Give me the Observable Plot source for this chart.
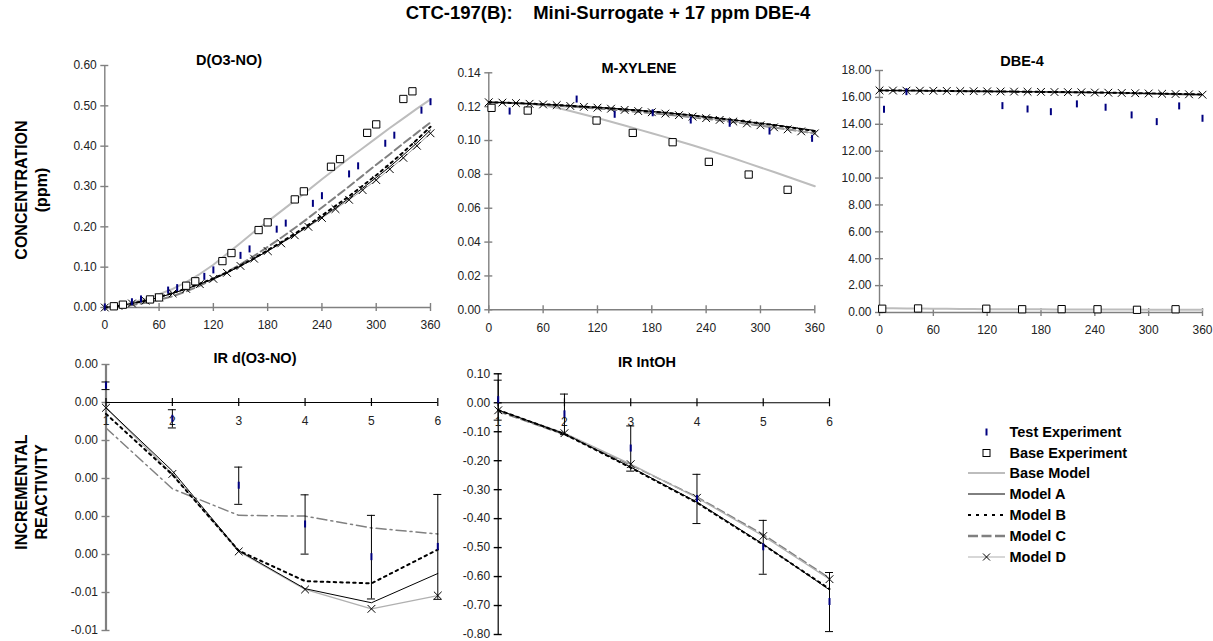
<!DOCTYPE html>
<html><head><meta charset="utf-8">
<script src="https://cdn.jsdelivr.net/npm/d3@7"></script>
<script src="https://cdn.jsdelivr.net/npm/@observablehq/plot@0.6"></script>
<style>
body{margin:0;background:#fff;font-family:"Liberation Sans",Arial,sans-serif;}
#chart{position:relative;width:1213px;height:641px;overflow:hidden;background:#fff;}
#chart svg.plot{position:absolute;left:0;top:0;}
.ttl{position:absolute;font-weight:bold;white-space:pre;transform:translate(-50%,-50%);color:#000;line-height:1;}
.ylab{position:absolute;font-weight:bold;font-size:16px;line-height:20px;text-align:center;white-space:pre;transform:translate(-50%,-50%) rotate(-90deg);color:#000;}
#legend{position:absolute;left:0;top:0;}
</style></head>
<body><div id="chart"></div>
<script>
// ---------- shared categories ----------
const modelTimes = [0,15,30,45,60,75,90,105,120,135,150,165,180,195,210,225,240,255,270,285,300,315,330,345,360];
const timeTicks = [0,60,120,180,240,300,360];
const irRuns = [1,2,3,4,5,6];

// ---------- D(O3-NO) ----------
const o3BaseModel = [0,0.003,0.012,0.022,0.033,0.046,0.063,0.083,0.106,0.133,0.160,0.188,0.213,0.239,0.265,0.291,0.318,0.344,0.370,0.395,0.420,0.445,0.469,0.493,0.516];
const o3ModelA = [0,0.004,0.010,0.017,0.025,0.035,0.046,0.058,0.071,0.086,0.103,0.121,0.140,0.160,0.180,0.202,0.224,0.247,0.271,0.296,0.322,0.349,0.378,0.408,0.440];
const o3ModelB = [0,0.004,0.010,0.017,0.026,0.036,0.047,0.059,0.072,0.087,0.104,0.122,0.142,0.162,0.183,0.205,0.228,0.252,0.276,0.302,0.328,0.356,0.385,0.416,0.448];
const o3ModelC = [0,0.002,0.006,0.012,0.019,0.028,0.040,0.054,0.070,0.088,0.107,0.128,0.150,0.173,0.197,0.222,0.248,0.274,0.300,0.327,0.354,0.380,0.407,0.433,0.459];
const o3ModelD = [0,0.004,0.010,0.017,0.025,0.035,0.046,0.058,0.071,0.086,0.103,0.121,0.140,0.159,0.179,0.200,0.222,0.244,0.267,0.291,0.316,0.343,0.371,0.401,0.432];
const o3BaseExpT = [10,20,50,60,90,100,130,140,170,180,210,220,250,260,290,300,330,340];
const o3BaseExpV = [0.003,0.007,0.020,0.025,0.054,0.065,0.115,0.135,0.192,0.211,0.268,0.288,0.349,0.368,0.433,0.454,0.517,0.536];
const o3TestExpT = [0,30,40,70,80,110,120,150,160,190,200,230,240,270,280,310,320,350,360];
const o3TestExpV = [0,0.013,0.020,0.042,0.048,0.076,0.092,0.128,0.144,0.193,0.208,0.257,0.276,0.330,0.350,0.406,0.426,0.488,0.509];
const o3Ticks = [0,0.1,0.2,0.3,0.4,0.5,0.6];
const o3TickLabels = ["0.00","0.10","0.20","0.30","0.40","0.50","0.60"];

// ---------- M-XYLENE ----------
const mxBaseModel = [0.1226,0.1225,0.1222,0.1217,0.1208,0.1193,0.1174,0.1154,0.1133,0.1111,0.1089,0.1066,0.1043,0.1020,0.0996,0.0972,0.0947,0.0921,0.0895,0.0868,0.0841,0.0814,0.0786,0.0758,0.0730];
const mxModelA = [0.1226,0.1224,0.1221,0.1218,0.1214,0.1210,0.1206,0.1201,0.1196,0.1191,0.1185,0.1179,0.1172,0.1165,0.1157,0.1149,0.1140,0.1131,0.1122,0.1112,0.1102,0.1092,0.1081,0.1070,0.1059];
const mxModelB = [0.1226,0.1224,0.1221,0.1218,0.1214,0.1210,0.1205,0.1200,0.1195,0.1190,0.1184,0.1178,0.1171,0.1164,0.1156,0.1148,0.1139,0.1130,0.1121,0.1111,0.1101,0.1091,0.1080,0.1068,0.1056];
const mxModelC = [0.1226,0.1223,0.1220,0.1216,0.1211,0.1206,0.1201,0.1195,0.1189,0.1183,0.1176,0.1169,0.1162,0.1154,0.1146,0.1137,0.1128,0.1119,0.1109,0.1099,0.1088,0.1077,0.1066,0.1054,0.1042];
const mxModelD = [0.1226,0.1224,0.1221,0.1217,0.1213,0.1209,0.1204,0.1199,0.1194,0.1188,0.1181,0.1174,0.1167,0.1159,0.1150,0.1141,0.1132,0.1122,0.1112,0.1101,0.1090,0.1078,0.1066,0.1054,0.1042];
const mxBaseExpT = [3,43,119,159,203,243,287,330];
const mxBaseExpV = [0.1193,0.1177,0.1118,0.1045,0.0990,0.0874,0.0799,0.0709];
const mxTestExpT = [23,97,139,181,223,266,310,357];
const mxTestExpV = [0.1171,0.1242,0.1152,0.1161,0.1118,0.1099,0.1053,0.1010];
const mxTicks = [0,0.02,0.04,0.06,0.08,0.10,0.12,0.14];
const mxTickLabels = ["0.00","0.02","0.04","0.06","0.08","0.10","0.12","0.14"];

// ---------- DBE-4 ----------
const dbBaseModel = [0.32,0.31,0.30,0.29,0.28,0.27,0.26,0.26,0.25,0.25,0.24,0.24,0.24,0.23,0.23,0.23,0.22,0.22,0.22,0.22,0.21,0.21,0.21,0.21,0.20];
const dbModelA = [16.52,16.51,16.50,16.50,16.49,16.48,16.47,16.46,16.45,16.44,16.43,16.42,16.41,16.40,16.39,16.38,16.36,16.35,16.33,16.31,16.29,16.27,16.25,16.23,16.21];
const dbModelB = [16.52,16.51,16.51,16.50,16.49,16.48,16.47,16.46,16.45,16.44,16.43,16.42,16.41,16.40,16.39,16.38,16.37,16.35,16.34,16.32,16.30,16.28,16.26,16.24,16.22];
const dbModelC = [16.52,16.51,16.50,16.49,16.48,16.47,16.46,16.45,16.44,16.43,16.42,16.41,16.40,16.39,16.38,16.37,16.35,16.34,16.32,16.30,16.28,16.26,16.24,16.22,16.20];
const dbModelD = [16.52,16.51,16.50,16.50,16.49,16.48,16.47,16.46,16.45,16.44,16.43,16.42,16.41,16.40,16.39,16.38,16.36,16.35,16.33,16.31,16.29,16.27,16.25,16.23,16.20];
const dbBaseExpT = [3,43,119,159,203,243,287,330];
const dbBaseExpV = [0.28,0.30,0.28,0.24,0.25,0.24,0.20,0.24];
const dbTestExpT = [5,30,137,165,191,220,252,281,309,334,360];
const dbTestExpV = [15.08,16.39,15.35,15.10,14.90,15.48,15.23,14.66,14.16,15.33,14.41];
const dbTicks = [0,2,4,6,8,10,12,14,16,18];
const dbTickLabels = ["0.00","2.00","4.00","6.00","8.00","10.00","12.00","14.00","16.00","18.00"];

// ---------- IR d(O3-NO) ----------
const irO3Test = [0.00044,-0.00043,-0.00219,-0.00321,-0.00407,-0.00380];
const irO3Err = [0.00010,0.00024,0.00049,0.00078,0.00110,0.00138];
const irO3ModelA = [-0.00014,-0.00180,-0.00390,-0.00490,-0.00527,-0.00450];
const irO3ModelB = [-0.00030,-0.00190,-0.00390,-0.00470,-0.00476,-0.00387];
const irO3ModelC = [-0.00067,-0.00227,-0.00297,-0.00299,-0.00330,-0.00346];
const irO3ModelD = [-0.00014,-0.00188,-0.00392,-0.00492,-0.00543,-0.00508];
const irO3Ticks = [0.001,0,-0.001,-0.002,-0.003,-0.004,-0.005,-0.006];
const irO3TickLabels = ["0.00","0.00","0.00","0.00","0.00","0.00","-0.01","-0.01"];

// ---------- IR IntOH ----------
const irOHTest = [0.009,-0.040,-0.158,-0.332,-0.499,-0.688];
const irOHErr = [0.069,0.070,0.078,0.085,0.093,0.102];
const irOHModelA = [-0.025,-0.107,-0.222,-0.343,-0.488,-0.646];
const irOHModelB = [-0.025,-0.108,-0.224,-0.345,-0.490,-0.643];
const irOHModelC = [-0.030,-0.110,-0.215,-0.325,-0.455,-0.605];
const irOHModelD = [-0.026,-0.105,-0.212,-0.328,-0.460,-0.609];
const irOHTicks = [0.1,0,-0.1,-0.2,-0.3,-0.4,-0.5,-0.6,-0.7,-0.8];
const irOHTickLabels = ["0.10","0.00","-0.10","-0.20","-0.30","-0.40","-0.50","-0.60","-0.70","-0.80"];

// ---------- styles ----------
const NAVY = "#000080", AXIS = "#808080", LABEL = "#222";
const W = 1213, H = 641;
const chart = document.getElementById("chart");
const styleBase = {background:"transparent", overflow:"visible", fontFamily:"'Liberation Sans', Arial, sans-serif"};

function zipRows(ts, series) {
  return ts.map((t, i) => { const r = {t}; for (const k in series) r[k] = series[k][i]; return r; });
}

function concPanel(o) {
  const rows = zipRows(modelTimes, {base:o.base, a:o.a, b:o.b, c:o.c, d:o.d});
  const baseExp = zipRows(o.beT, {v:o.beV});
  const testExp = zipRows(o.teT, {v:o.teV});
  const svg = Plot.plot({
    width: W, height: H,
    marginLeft: o.L, marginRight: W - o.R, marginTop: o.T, marginBottom: H - o.B,
    x: {domain: [0, 360], axis: null},
    y: {domain: o.ydom, axis: null},
    style: styleBase,
    marks: [
      Plot.ruleX([0], {stroke: AXIS, strokeWidth: 1.4}),
      Plot.ruleY([0], {stroke: AXIS, strokeWidth: 1.4}),
      Plot.ruleX(timeTicks, {x: d => d, y1: 0, y2: 0, insetTop: -4, insetBottom: -4, stroke: AXIS, strokeWidth: 1.4}),
      Plot.ruleY(o.ticks, {y: d => d, x1: 0, x2: 0, insetLeft: -4, insetRight: -4, stroke: AXIS, strokeWidth: 1.4}),
      Plot.text(o.ticks, {x: 0, y: d => d, text: (d, i) => o.labels[i], textAnchor: "end", dx: -8, fontSize: 12, fill: LABEL}),
      Plot.text(timeTicks, {x: d => d, y: o.ydom[0], text: d => String(d), dy: 18, fontSize: 12, fill: LABEL}),
      Plot.line(rows, {x: "t", y: "base", stroke: "#bdbdbd", strokeWidth: 2}),
      Plot.line(rows, {x: "t", y: "c", stroke: "#808080", strokeWidth: 2, strokeDasharray: "8,4"}),
      Plot.line(rows, {x: "t", y: "d", stroke: "#a6a6a6", strokeWidth: 1}),
      Plot.line(rows, {x: "t", y: "b", stroke: "#000", strokeWidth: 2, strokeDasharray: "2.5,4"}),
      Plot.line(rows, {x: "t", y: "a", stroke: "#000", strokeWidth: 1}),
      Plot.dot(rows, {x: "t", y: "d", symbol: "times", r: 3.6, stroke: "#000", strokeWidth: 1}),
      Plot.ruleX(testExp, {x: "t", y1: "v", y2: "v", insetTop: -3.5, insetBottom: -3.5, stroke: NAVY, strokeWidth: 2}),
      Plot.dot(baseExp, {x: "t", y: "v", symbol: "square", r: 4.1, stroke: "#000", fill: "#fff", strokeWidth: 1})
    ]
  });
  svg.classList.add("plot");
  chart.appendChild(svg);
}

function irPanel(o) {
  const rows = irRuns.map((r, i) => ({r, test: o.test[i], err: o.err[i], lo: o.test[i] - o.err[i], hi: o.test[i] + o.err[i], a: o.a[i], b: o.b[i], c: o.c[i], d: o.d[i]}));
  const svg = Plot.plot({
    width: W, height: H,
    marginLeft: o.L, marginRight: W - o.R, marginTop: o.T, marginBottom: H - o.B,
    x: {domain: [1, 6], axis: null},
    y: {domain: o.ydom, axis: null},
    style: styleBase,
    marks: [
      Plot.ruleX([1], {stroke: o.yAxisColor, strokeWidth: o.yAxisWidth}),
      Plot.ruleY(o.ticks, {y: d => d, x1: 1, x2: 1, insetLeft: -4, insetRight: -4, stroke: o.yAxisColor, strokeWidth: 1.4}),
      Plot.text(o.ticks, {x: 1, y: d => d, text: (d, i) => o.labels[i], textAnchor: "end", dx: -8, fontSize: 12, fill: LABEL}),
      Plot.ruleY([0], {stroke: "#000", strokeWidth: 1.2}),
      Plot.ruleX(irRuns, {x: d => d, y1: 0, y2: 0, insetTop: -4, insetBottom: -4, stroke: "#000", strokeWidth: 1.2}),
      Plot.text(irRuns, {x: d => d, y: 0, text: d => String(d), dy: 19, fontSize: 12, fill: LABEL}),
      Plot.line(rows, {x: "r", y: "c", stroke: "#808080", strokeWidth: 1.5, strokeDasharray: o.cDash}),
      Plot.line(rows, {x: "r", y: "d", stroke: "#b0b0b0", strokeWidth: 1.3}),
      Plot.line(rows, {x: "r", y: "b", stroke: "#000", strokeWidth: 2, strokeDasharray: "2.5,4"}),
      Plot.line(rows, {x: "r", y: "a", stroke: "#000", strokeWidth: 1}),
      Plot.dot(rows, {x: "r", y: "d", symbol: "times", r: 3.6, stroke: "#000", strokeWidth: 1}),
      Plot.ruleX(rows, {x: "r", y1: "lo", y2: "hi", stroke: "#000", strokeWidth: 1}),
      Plot.ruleY(rows, {y: "lo", x1: "r", x2: "r", insetLeft: -4, insetRight: -4, stroke: "#000", strokeWidth: 1}),
      Plot.ruleY(rows, {y: "hi", x1: "r", x2: "r", insetLeft: -4, insetRight: -4, stroke: "#000", strokeWidth: 1}),
      Plot.ruleX(rows, {x: "r", y1: "test", y2: "test", insetTop: -3.5, insetBottom: -3.5, stroke: NAVY, strokeWidth: 2})
    ]
  });
  svg.classList.add("plot");
  chart.appendChild(svg);
}

concPanel({L:104.3, R:430, T:65, B:307, ydom:[0,0.6], ticks:o3Ticks, labels:o3TickLabels,
  base:o3BaseModel, a:o3ModelA, b:o3ModelB, c:o3ModelC, d:o3ModelD,
  beT:o3BaseExpT, beV:o3BaseExpV, teT:o3TestExpT, teV:o3TestExpV});
concPanel({L:488.3, R:814.3, T:72.3, B:309.3, ydom:[0,0.14], ticks:mxTicks, labels:mxTickLabels,
  base:mxBaseModel, a:mxModelA, b:mxModelB, c:mxModelC, d:mxModelD,
  beT:mxBaseExpT, beV:mxBaseExpV, teT:mxTestExpT, teV:mxTestExpV});
concPanel({L:879, R:1202, T:70, B:312, ydom:[0,18], ticks:dbTicks, labels:dbTickLabels,
  base:dbBaseModel, a:dbModelA, b:dbModelB, c:dbModelC, d:dbModelD,
  beT:dbBaseExpT, beV:dbBaseExpV, teT:dbTestExpT, teV:dbTestExpV});
irPanel({L:105.5, R:437.3, T:364, B:630, ydom:[-0.006,0.001], ticks:irO3Ticks, labels:irO3TickLabels,
  test:irO3Test, err:irO3Err, a:irO3ModelA, b:irO3ModelB, c:irO3ModelC, d:irO3ModelD,
  yAxisColor:AXIS, yAxisWidth:2.2, cDash:"10,4,2,4"});
irPanel({L:497.7, R:829, T:373.3, B:634, ydom:[-0.8,0.1], ticks:irOHTicks, labels:irOHTickLabels,
  test:irOHTest, err:irOHErr, a:irOHModelA, b:irOHModelB, c:irOHModelC, d:irOHModelD,
  yAxisColor:"#000", yAxisWidth:1.2, cDash:"8,4"});

// ---------- titles ----------
function addText(cls, txt, x, y, size) {
  const d = document.createElement("div");
  d.className = cls; d.textContent = txt;
  d.style.left = x + "px"; d.style.top = y + "px";
  if (size) d.style.fontSize = size + "px";
  chart.appendChild(d);
}
addText("ttl", "CTC-197(B):    Mini-Surrogate + 17 ppm DBE-4", 608, 13, 18.5);
addText("ttl", "D(O3-NO)", 229, 60, 14.5);
addText("ttl", "M-XYLENE", 639, 68, 14.5);
addText("ttl", "DBE-4", 1022, 61, 14.5);
addText("ttl", "IR d(O3-NO)", 255, 358, 14.5);
addText("ttl", "IR IntOH", 647, 362, 14.5);
addText("ylab", "CONCENTRATION\n(ppm)", 32, 190);
addText("ylab", "INCREMENTAL\nREACTIVITY", 32, 492);

// ---------- legend ----------
const legendItems = ["Test Experiment","Base Experiment","Base Model","Model A","Model B","Model C","Model D"];
const legendY = [432,453,473,494,515,536,557];
const ns = "http://www.w3.org/2000/svg";
const lg = document.createElementNS(ns, "svg");
lg.setAttribute("id", "legend"); lg.setAttribute("width", W); lg.setAttribute("height", H);
function el(tag, attrs) { const e = document.createElementNS(ns, tag); for (const k in attrs) e.setAttribute(k, attrs[k]); lg.appendChild(e); return e; }
const sx1 = 968, sx2 = 1005, sxm = 986.5, tx = 1009.5;
legendItems.forEach((name, i) => {
  const y = legendY[i];
  if (i === 0) el("line", {x1:sxm, x2:sxm, y1:y-3.5, y2:y+3.5, stroke:NAVY, "stroke-width":2});
  if (i === 1) el("rect", {x:sxm-3.5, y:y-3.5, width:7, height:7, fill:"#fff", stroke:"#000", "stroke-width":1});
  if (i === 2) el("line", {x1:sx1, x2:sx2, y1:y, y2:y, stroke:"#bdbdbd", "stroke-width":2});
  if (i === 3) el("line", {x1:sx1, x2:sx2, y1:y, y2:y, stroke:"#000", "stroke-width":1});
  if (i === 4) el("line", {x1:sx1, x2:sx2, y1:y, y2:y, stroke:"#000", "stroke-width":2, "stroke-dasharray":"3,5"});
  if (i === 5) el("line", {x1:sx1, x2:sx2, y1:y, y2:y, stroke:"#808080", "stroke-width":2.5, "stroke-dasharray":"10,3.5"});
  if (i === 6) {
    el("line", {x1:sx1, x2:sx2, y1:y, y2:y, stroke:"#b0b0b0", "stroke-width":1.2});
    el("path", {d:`M${sxm-3.5},${y-3.5}L${sxm+3.5},${y+3.5}M${sxm-3.5},${y+3.5}L${sxm+3.5},${y-3.5}`, stroke:"#000", "stroke-width":1});
  }
  const t = el("text", {x:tx, y:y, "dominant-baseline":"central", "font-family":"'Liberation Sans', Arial, sans-serif", "font-size":14.5, "font-weight":"bold", fill:"#000"});
  t.textContent = name;
});
chart.appendChild(lg);
</script>
</body></html>
